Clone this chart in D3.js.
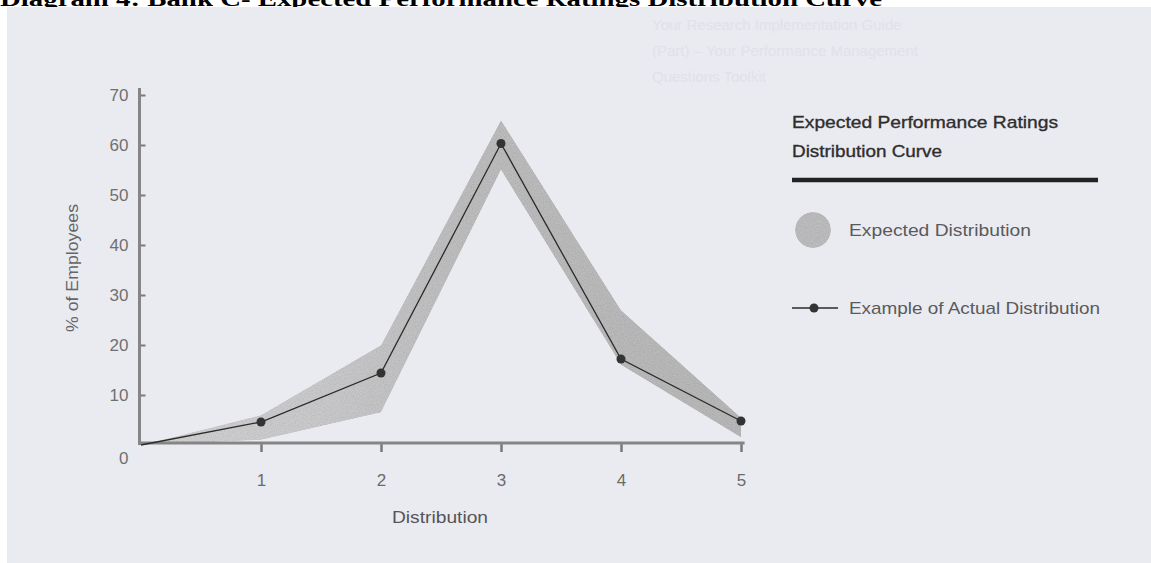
<!DOCTYPE html>
<html>
<head>
<meta charset="utf-8">
<script src="https://cdn.jsdelivr.net/npm/d3@7.9.0/dist/d3.min.js"></script>
<style>
  html, body { margin: 0; padding: 0; background: #fff; overflow: hidden; }
  text { font-family: "Liberation Sans", Arial, sans-serif; }
</style>
</head>
<body>
<div id="chart"></div>
<script>
// ratings on the x axis (0 is the origin of both curves)
const ratings = [0, 1, 2, 3, 4, 5];
const xTicks = [1, 2, 3, 4, 5];
const yTicks = [0, 10, 20, 30, 40, 50, 60, 70];

// example of actual distribution, % of employees
const actual = [0, 4.6, 14.4, 60.3, 17.2, 4.8];
// expected distribution band, lower and upper edge
const expectedLow = [0, 1, 6.5, 55, 16, 1.5];
const expectedHigh = [0, 6, 20, 65, 27, 5.5];

const legendItems = ["Expected Distribution", "Example of Actual Distribution"];
const ghostLines = ["Your Research Implementation Guide", "(Part) \u2013 Your Performance Management", "Questions Toolkit"];

const width = 1151;
const height = 563;

const svg = d3.select("#chart")
    .append("svg")
    .attr("width", width)
    .attr("height", height);

const defs = svg.append("defs");

// grainy texture for the printed gray areas
const grain = defs.append("filter")
    .attr("id", "grain")
    .attr("x", 0).attr("y", 0).attr("width", 1).attr("height", 1);
grain.append("feTurbulence")
    .attr("type", "fractalNoise")
    .attr("baseFrequency", 0.9)
    .attr("numOctaves", 2)
    .attr("seed", 4)
    .attr("result", "noise");
grain.append("feColorMatrix")
    .attr("in", "noise")
    .attr("type", "saturate")
    .attr("values", 0)
    .attr("result", "gray");
const ct = grain.append("feComponentTransfer").attr("in", "gray").attr("result", "gray2");
["feFuncR", "feFuncG", "feFuncB"].forEach(f => ct.append(f).attr("type", "linear").attr("slope", 0.45).attr("intercept", 0.72));
ct.append("feFuncA").attr("type", "linear").attr("slope", 0).attr("intercept", 1);
grain.append("feBlend")
    .attr("in", "SourceGraphic")
    .attr("in2", "gray2")
    .attr("mode", "multiply")
    .attr("result", "blend");
grain.append("feComposite")
    .attr("in", "blend")
    .attr("in2", "SourceGraphic")
    .attr("operator", "in");

// clipped document title above the scan
svg.append("text")
    .attr("x", 0)
    .attr("y", 6)
    .attr("textLength", 882)
    .attr("lengthAdjust", "spacingAndGlyphs")
    .style("font-family", "'Liberation Serif', 'Times New Roman', serif")
    .style("font-weight", "bold")
    .style("font-size", "20px")
    .attr("fill", "#000")
    .text("Diagram 4: Bank C- Expected Performance Ratings Distribution Curve");

// scanned page
svg.append("rect")
    .attr("x", 7)
    .attr("y", 7)
    .attr("width", width - 7)
    .attr("height", height - 7)
    .attr("fill", "#eaeaf1");

// faint show-through from the back of the page
svg.append("g")
    .selectAll("text")
    .data(ghostLines)
    .join("text")
    .attr("x", 652)
    .attr("y", (d, i) => 30 + i * 26)
    .attr("fill", "#e1e1e9")
    .style("font-size", "15px")
    .text(d => d);

const x = d3.scaleLinear().domain([0, 5]).range([141, 741]);
const y = d3.scaleLinear().domain([0, 70]).range([445, 95]);

const band = defs.append("linearGradient")
    .attr("id", "bandFill")
    .attr("gradientUnits", "userSpaceOnUse")
    .attr("x1", x(0)).attr("x2", x(5))
    .attr("y1", 0).attr("y2", 0);
band.append("stop").attr("offset", "0%").attr("stop-color", "#d2d2d4");
band.append("stop").attr("offset", "30%").attr("stop-color", "#cacacc");
band.append("stop").attr("offset", "55%").attr("stop-color", "#bdbdbe");
band.append("stop").attr("offset", "100%").attr("stop-color", "#b8b8b9");

// expected distribution band
const area = d3.area()
    .x((d, i) => x(ratings[i]))
    .y0((d, i) => y(expectedLow[i]))
    .y1((d, i) => y(expectedHigh[i]));

svg.append("path")
    .datum(ratings)
    .attr("fill", "url(#bandFill)")
    .attr("filter", "url(#grain)")
    .attr("d", area);

// axes
const yAxis = svg.append("g")
    .attr("transform", `translate(${x(0) - 1.5},0)`)
    .call(d3.axisLeft(y).tickValues(yTicks).tickSize(-6).tickPadding(11));
yAxis.select(".domain").remove();
yAxis.selectAll(".tick line")
    .attr("stroke", "#7a7a7a")
    .attr("stroke-width", 2);
yAxis.selectAll(".tick").filter(d => d === 0).select("line").remove();
yAxis.selectAll(".tick text")
    .attr("fill", "#707070")
    .style("font-size", "17px")
    .attr("dy", d => d === 0 ? "1.1em" : "0.32em");

const xAxis = svg.append("g")
    .attr("transform", `translate(0,${y(0) - 2})`)
    .call(d3.axisBottom(x).tickValues(xTicks).tickFormat(d3.format("d")).tickSize(9).tickPadding(22));
xAxis.select(".domain").remove();
xAxis.selectAll(".tick line")
    .attr("stroke", "#7a7a7a")
    .attr("stroke-width", 2.5);
xAxis.selectAll(".tick text")
    .attr("fill", "#6a6a6a")
    .style("font-size", "17px");

svg.append("line")
    .attr("x1", x(0) - 1.5).attr("x2", x(0) - 1.5)
    .attr("y1", y(0)).attr("y2", y(71.4))
    .attr("stroke", "#858585")
    .attr("stroke-width", 3);
svg.append("line")
    .attr("x1", x(0) - 3).attr("x2", x(5.03))
    .attr("y1", y(0) - 2).attr("y2", y(0) - 2)
    .attr("stroke", "#858585")
    .attr("stroke-width", 3);

// axis labels
svg.append("text")
    .attr("transform", `translate(78,${268}) rotate(-90)`)
    .attr("text-anchor", "middle")
    .attr("textLength", 128)
    .attr("lengthAdjust", "spacingAndGlyphs")
    .attr("fill", "#666")
    .style("font-size", "16px")
    .text("% of Employees");
svg.append("text")
    .attr("x", 440)
    .attr("y", 523)
    .attr("text-anchor", "middle")
    .attr("textLength", 96)
    .attr("lengthAdjust", "spacingAndGlyphs")
    .attr("fill", "#555")
    .style("font-size", "16px")
    .text("Distribution");

// actual distribution line and points
const line = d3.line()
    .x((d, i) => x(ratings[i]))
    .y(d => y(d));

svg.append("path")
    .datum(actual)
    .attr("fill", "none")
    .attr("stroke", "#2a2a2a")
    .attr("stroke-width", 1.3)
    .attr("d", line);

svg.append("g")
    .selectAll("circle")
    .data(actual.slice(1))
    .join("circle")
    .attr("cx", (d, i) => x(ratings[i + 1]))
    .attr("cy", d => y(d))
    .attr("r", 4.5)
    .attr("fill", "#333");

// legend
const legend = svg.append("g");
legend.append("text")
    .attr("x", 792).attr("y", 128)
    .attr("textLength", 266)
    .attr("lengthAdjust", "spacingAndGlyphs")
    .attr("fill", "#2e2e2e")
    .attr("stroke", "#2e2e2e")
    .attr("stroke-width", 0.35)
    .style("font-size", "17px")
    .text("Expected Performance Ratings");
legend.append("text")
    .attr("x", 792).attr("y", 157)
    .attr("textLength", 150)
    .attr("lengthAdjust", "spacingAndGlyphs")
    .attr("fill", "#2e2e2e")
    .attr("stroke", "#2e2e2e")
    .attr("stroke-width", 0.35)
    .style("font-size", "17px")
    .text("Distribution Curve");
legend.append("line")
    .attr("x1", 792).attr("x2", 1098)
    .attr("y1", 180).attr("y2", 180)
    .attr("stroke", "#222")
    .attr("stroke-width", 4.5);

legend.append("circle")
    .attr("cx", 813).attr("cy", 230)
    .attr("r", 18)
    .attr("fill", "#bdbdbf")
    .attr("filter", "url(#grain)");
legend.append("line")
    .attr("x1", 792).attr("x2", 838)
    .attr("y1", 308).attr("y2", 308)
    .attr("stroke", "#2a2a2a")
    .attr("stroke-width", 1.5);
legend.append("circle")
    .attr("cx", 814).attr("cy", 308)
    .attr("r", 4.5)
    .attr("fill", "#333");

legend.selectAll(".item")
    .data(legendItems)
    .join("text")
    .attr("class", "item")
    .attr("x", 849)
    .attr("y", (d, i) => i === 0 ? 236 : 314)
    .attr("textLength", (d, i) => i === 0 ? 182 : 251)
    .attr("lengthAdjust", "spacingAndGlyphs")
    .attr("fill", "#5a5a5a")
    .style("font-size", "17px")
    .text(d => d);
</script>
</body>
</html>
